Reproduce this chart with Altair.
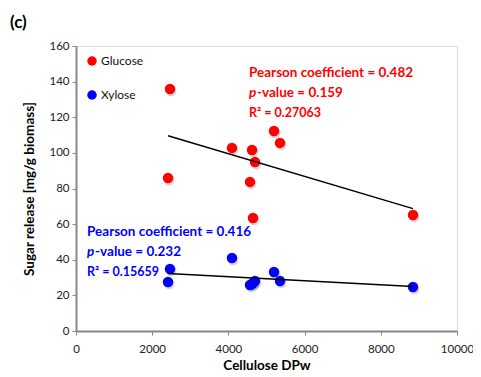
import altair as alt
import pandas as pd

dpw = [2467, 2415, 4094, 4620, 4698, 4567, 4646, 5197, 5354, 8845]
glucose = [135.9, 85.9, 102.8, 101.6, 94.9, 83.7, 63.4, 112.3, 105.6, 65.1]
xylose = [34.8, 27.5, 41.0, 26.4, 28.1, 25.8, 27.0, 33.1, 28.1, 24.7]
sugars = ["Glucose", "Xylose"]
colors = ["#FF0000", "#0000FF"]

x_ticks = [0, 2000, 4000, 6000, 8000, 10000]
y_ticks = [0, 20, 40, 60, 80, 100, 120, 140, 160]

ann_sugar = ["Glucose", "Xylose"]
ann_pearson = ["Pearson coefficient = 0.482", "Pearson coefficient = 0.416"]
ann_p = ["-value = 0.159", "-value = 0.232"]
ann_r2 = ["R\u00b2 = 0.27063", "R\u00b2 = 0.15659"]
ann_x = [4541, 290]
ann_y = [145.0, 55.5]

rows = []
for i, x in enumerate(dpw):
    rows.append({"dpw": x, "value": glucose[i], "sugar": "Glucose"})
    rows.append({"dpw": x, "value": xylose[i], "sugar": "Xylose"})
df = pd.DataFrame(rows)

ann = pd.DataFrame({"sugar": ann_sugar, "pearson": ann_pearson, "pv": ann_p,
                    "r2": ann_r2, "x": ann_x, "y": ann_y})

x_axis = alt.Axis(values=x_ticks, title="Cellulose DPw", grid=False,
                  titleFontWeight="bold", titleFontSize=13.5, titlePadding=4,
                  labelFontSize=11.5, labelPadding=8, format="d",
                  labelOverlap=False, labelFlush=False,
                  domainColor="#888888", domainWidth=2, tickColor="#888888",
                  tickSize=4, labelColor="#222222")
y_axis = alt.Axis(values=y_ticks, title="Sugar release [mg/g biomass]", grid=False,
                  titleFontWeight="bold", titleFontSize=13.5, titlePadding=12,
                  labelFontSize=11.5, labelPadding=3,
                  labelOverlap=False, labelFlush=False,
                  domainColor="#888888", domainWidth=2, tickColor="#888888",
                  tickSize=4, labelColor="#222222")
xs = alt.X("dpw:Q", scale=alt.Scale(domain=[0, 10000], nice=False), axis=x_axis)
ys = alt.Y("value:Q", scale=alt.Scale(domain=[0, 160], nice=False), axis=y_axis)
col = alt.Color("sugar:N", scale=alt.Scale(domain=sugars, range=colors),
                legend=alt.Legend(title=None, orient="none", legendX=10, legendY=9,
                                  symbolType="circle", symbolSize=90, labelFontSize=12,
                                  rowPadding=22, padding=0, symbolStrokeWidth=0,
                                  labelColor="#111111", labelOffset=3))

base = alt.Chart(df)
shadow = base.mark_circle(size=110, color="#777777", opacity=0.3, xOffset=1.2, yOffset=2).encode(x=xs, y=ys)
points = base.mark_circle(size=110, opacity=1).encode(x=xs, y=ys, color=col)
lines = base.transform_regression("dpw", "value", groupby=["sugar"]).mark_line(
    color="black", strokeWidth=1.5).encode(x=xs, y=ys, detail="sugar:N")

tcol = alt.Color("sugar:N", scale=alt.Scale(domain=sugars, range=colors), legend=None)
ax = alt.X("x:Q", scale=alt.Scale(domain=[0, 10000], nice=False), axis=x_axis)
ay = alt.Y("y:Q", scale=alt.Scale(domain=[0, 160], nice=False), axis=y_axis)
abase = alt.Chart(ann)
t1 = abase.mark_text(align="left", baseline="middle", fontWeight="bold", fontSize=13.5,
                     font="Lato").encode(x=ax, y=ay, text="pearson:N", color=tcol)
t2a = abase.mark_text(align="left", baseline="middle", fontWeight="bold", fontStyle="italic",
                      fontSize=13.5, font="Lato", dy=20).encode(x=ax, y=ay, text=alt.value("p"), color=tcol)
t2b = abase.mark_text(align="left", baseline="middle", fontWeight="bold", fontSize=13.5,
                      font="Lato", dy=20, dx=8).encode(x=ax, y=ay, text="pv:N", color=tcol)
t3 = abase.mark_text(align="left", baseline="middle", fontWeight="bold", fontSize=12.5,
                     font="Lato", dy=40).encode(x=ax, y=ay, text="r2:N", color=tcol)

title = alt.Chart(pd.DataFrame({"t": ["(c)"]})).mark_text(
    align="left", baseline="middle", fontWeight="bold", fontSize=17, font="Lato", color="black"
).encode(x=alt.value(-66), y=alt.value(-23), text="t:N")

chart = alt.layer(shadow, points, lines, t1, t2a, t2b, t3, title).properties(
    width=381, height=285,
    autosize=alt.AutoSizeParams(type="none"),
    padding={"left": 68, "top": 38, "right": 16, "bottom": 44},
).configure_view(stroke="#333333", strokeWidth=1.5).configure(font="Lato")

chart.save("out.html", embed_options={"renderer": "svg", "actions": False})
